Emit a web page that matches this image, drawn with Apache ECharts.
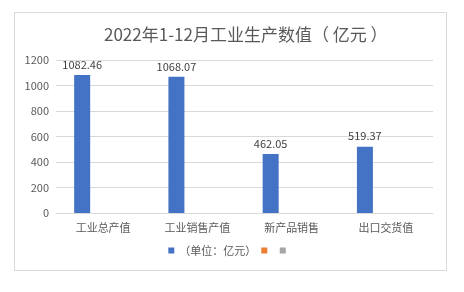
<!DOCTYPE html>
<html lang="zh">

<head>
    <meta charset="utf-8">
    <style type="text/css">
    html, body {
        margin: 0;
        padding: 0;
        background-color: #fff
    }

    #echarts {
        width: 464px;
        height: 292px;
    }
    </style>
</head>

<body>
    <div id="echarts"></div>
    <script type="text/javascript" src="https://cdn.jsdelivr.net/npm/echarts@6/dist/echarts.min.js"></script>
    <script type="text/javascript">
    var categories = ['工业总产值', '工业销售产值', '新产品销售', '出口交货值'];
    var values = [1082.46, 1068.07, 462.05, 519.37];
    var emptyValues = ['-', '-', '-', '-'];
    var yTicks = [0, 200, 400, 600, 800, 1000, 1200];
    var seriesNames = ['（单位：亿元）', ' ', '  '];

    var font = '"Noto Sans CJK SC", "Microsoft YaHei", sans-serif';
    var myEcharts = echarts.init(document.getElementById('echarts'));

    var option = {
        backgroundColor: '#fff',
        animation: false,
        textStyle: {
            fontFamily: font
        },
        graphic: [{
            type: 'rect',
            shape: { x: 14.5, y: 12.5, width: 432, height: 258 },
            style: { fill: 'none', stroke: '#d9d9d9', lineWidth: 1 },
            silent: true
        }],
        title: {
            text: '2022年1-12月工业生产数值（ 亿元 ）',
            left: 99,
            top: 21,
            textStyle: {
                fontFamily: font,
                fontSize: 17,
                fontWeight: 'normal',
                color: '#595959'
            }
        },
        legend: {
            data: seriesNames,
            bottom: 31,
            left: 'center',
            itemWidth: 6,
            itemHeight: 6,
            itemGap: 5,
            icon: 'rect',
            textStyle: {
                fontFamily: font,
                fontSize: 11,
                color: '#595959'
            }
        },
        grid: {
            left: 56,
            right: 31,
            top: 60,
            bottom: 79
        },
        xAxis: {
            type: 'category',
            data: categories,
            axisTick: { show: false },
            axisLine: { lineStyle: { color: '#d9d9d9' } },
            axisLabel: {
                color: '#595959',
                fontSize: 11,
                margin: 9
            }
        },
        yAxis: {
            type: 'value',
            min: yTicks[0],
            max: yTicks[yTicks.length - 1],
            interval: yTicks[1] - yTicks[0],
            axisLine: { show: false },
            axisTick: { show: false },
            axisLabel: {
                color: '#595959',
                fontSize: 11,
                margin: 7,
                formatter: function (v) { return String(v); }
            },
            splitLine: { lineStyle: { color: '#d9d9d9' } }
        },
        series: [{
            name: seriesNames[0],
            type: 'bar',
            data: values,
            barWidth: 16,
            barGap: '31%',
            itemStyle: { color: '#4472c4' },
            label: {
                show: true,
                position: 'top',
                distance: 5,
                color: '#404040',
                fontSize: 11
            }
        }, {
            name: seriesNames[1],
            type: 'bar',
            data: emptyValues,
            barWidth: 16,
            itemStyle: { color: '#ed7d31' }
        }, {
            name: seriesNames[2],
            type: 'bar',
            data: emptyValues,
            barWidth: 16,
            itemStyle: { color: '#a5a5a5' }
        }]
    };
    myEcharts.setOption(option);
    </script>
</body>

</html>
